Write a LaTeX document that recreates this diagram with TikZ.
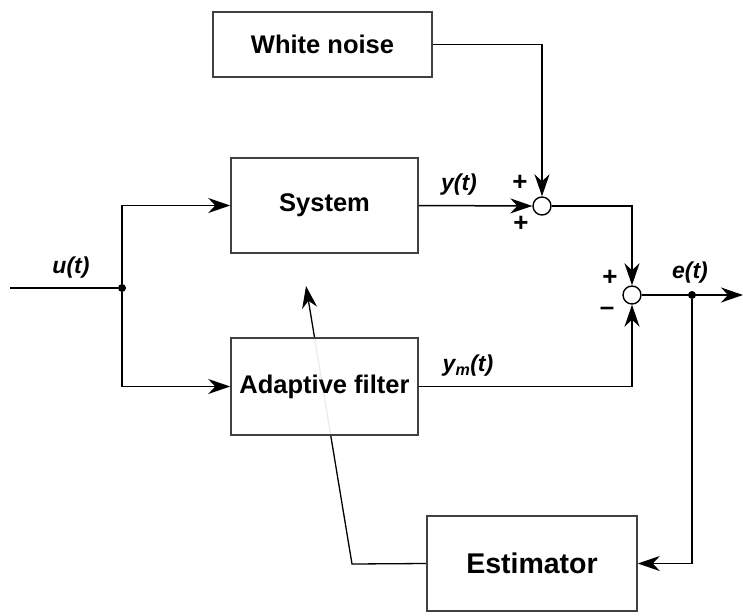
\documentclass[tikz,border=0pt]{standalone}
\usepackage{fontspec}
\setmainfont{Liberation Sans}
\usetikzlibrary{arrows.meta,backgrounds}
\begin{document}
\begin{tikzpicture}[x=1pt,y=-1pt,
  blk/.style={draw=black!75,line width=1.6pt,rectangle,inner sep=0pt,fill=white,fill opacity=0.93,text opacity=1,font=\fontsize{25.5}{28}\selectfont\bfseries},
  sumj/.style={draw,circle,line width=1.4pt,minimum size=18pt,inner sep=0pt,fill=white},
  conn/.style={line width=1.5pt,-{Stealth[length=22pt,width=15pt,inset=7pt]}},
  wire/.style={line width=1.5pt},
  lbl/.style={font=\fontsize{23}{26}\selectfont\bfseries\itshape},
  sgn/.style={font=\fontsize{26}{28}\selectfont\bfseries},
  dotn/.style={circle,fill,inner sep=0pt,minimum size=8pt}]
\useasboundingbox (0,0) rectangle (743,615);
\node[blk,minimum width=219pt,minimum height=65pt] (wn) at (322.5,44.5) {White noise};
\node[blk,minimum width=187pt,minimum height=95pt] (sys) at (324.5,205.5) {System};
\node[blk,minimum width=187pt,minimum height=97pt] (af) at (324.5,386.5) {Adaptive filter};
\node[blk,minimum width=210pt,minimum height=95pt,font=\fontsize{28.5}{31}\selectfont\bfseries] (est) at (532,563.5) {Estimator};
\node[sumj] (s1) at (542,206) {};
\node[sumj] (s2) at (632,295) {};
\coordinate (in) at (10,288);
\node[dotn] (split) at (122,288) {};
\node[dotn] (eo) at (692,295) {};
\coordinate (out) at (743,295);
\coordinate (bend) at (352,564);
\coordinate (tip) at (306,286);
% connectors
\draw[wire] (in) -- (split);
\draw[conn] (split) |- (sys.west);
\draw[conn] (split) |- (af.west);
\draw[conn] (wn.east) -| (s1.north);
\draw[conn] (sys.east) -- (s1.west);
\draw[conn] (s1.east) -| (s2.north);
\draw[conn] (af.east) -| (s2.south);
\draw[conn] (s2.east) -- (out);
\draw[conn] (eo) |- (est.east);
\begin{scope}[on background layer]
\draw[conn,line width=1.3pt] (est.west) -- (bend) -- (tip);
\end{scope}
% labels
\node[lbl] (lu) at (71,268) {u(t)};
\node[lbl] (ly) at (459,185) {y(t)};
\node[lbl] (lym) at (468,366) {y\textsubscript{m}(t)};
\node[lbl] (le) at (690,273) {e(t)};
\node[sgn] (p1) at (520,183) {+};
\node[sgn] (p2) at (521,224) {+};
\node[sgn] (p3) at (610,278) {+};
\node[sgn] (m4) at (607,311) {\textendash};
\end{tikzpicture}
\end{document}
